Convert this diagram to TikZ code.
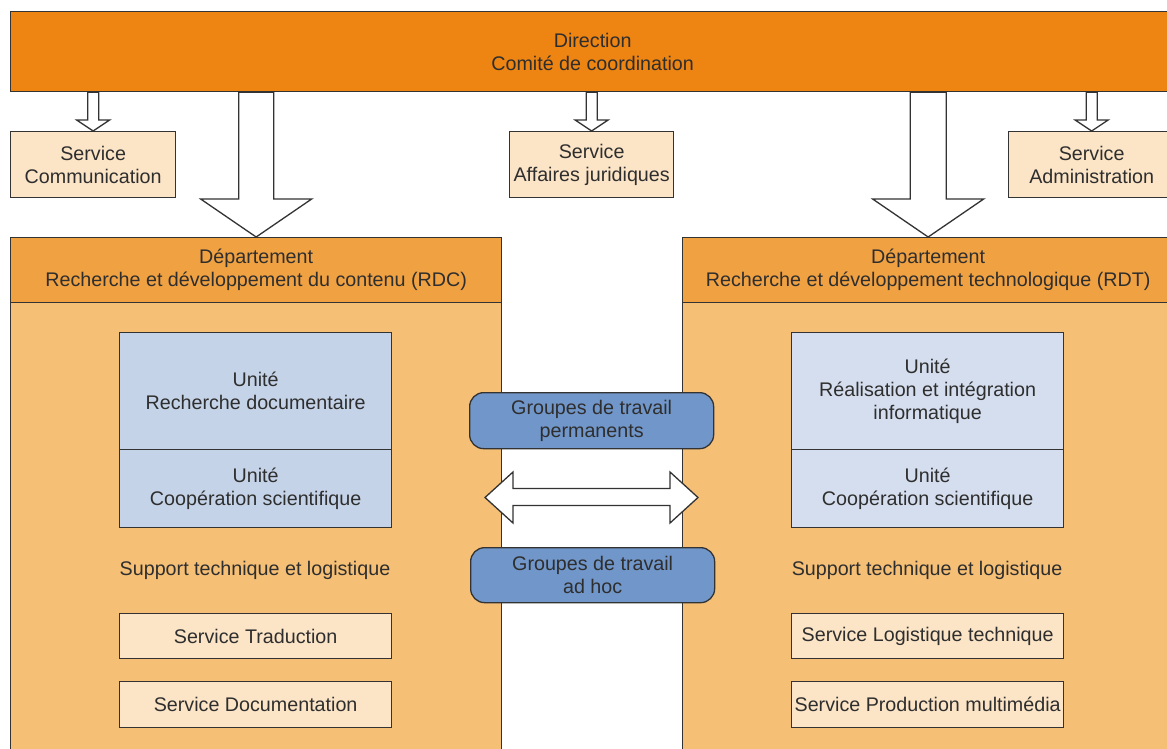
\documentclass[tikz,border=0pt]{standalone}
\usepackage{fontspec}
\setmainfont{Liberation Sans}
\usetikzlibrary{calc}
\definecolor{topc}{HTML}{EE8411}
\definecolor{headc}{HTML}{F0A142}
\definecolor{bodyc}{HTML}{F5BF76}
\definecolor{servc}{HTML}{FCE5C7}
\definecolor{unitl}{HTML}{C5D3E8}
\definecolor{unitr}{HTML}{D5DEEE}
\definecolor{groupc}{HTML}{7196C9}
\definecolor{linec}{HTML}{333333}
\definecolor{txtc}{HTML}{2E2E2E}
\newcommand\downblk[5]{%
  \draw[blk] let \p1=(#1), \p2=(#2) in
    ({\x2-#3},\y1) -- ({\x2-#3},{\y2+#5}) -- ({\x2-#4},{\y2+#5}) -- (\x2,\y2)
    -- ({\x2+#4},{\y2+#5}) -- ({\x2+#3},{\y2+#5}) -- ({\x2+#3},\y1) -- cycle;}
\begin{document}
\begin{tikzpicture}[x=1pt,y=-1pt,
  box/.style={draw=linec, line width=1.3pt, anchor=north west, inner sep=0pt,
    align=center, text=txtc, font=\fontsize{19.7}{23}\selectfont},
  plain/.style={inner sep=0pt, align=center, text=txtc, font=\fontsize{19.7}{23}\selectfont},
  blk/.style={draw=linec, line width=1.3pt, fill=white, line join=miter}]
\useasboundingbox (0,0) rectangle (1167,748);
\clip (0,0) rectangle (1167,748);
\fill[white] (0,0) rectangle (1167,748);

% top bar
\node[box, fill=topc, minimum width=1164pt, minimum height=80pt] (dir) at (10,11) {Direction\\Comité de coordination};

% services top
\node[box, fill=servc, minimum width=165pt, minimum height=66pt] (com) at (10,131) {Service\\Communication};
\node[box, fill=servc, minimum width=164pt, minimum height=66pt] (jur) at (509,131) {Service\\Affaires juridiques};
\node[box, fill=servc, minimum width=166pt, minimum height=66pt] (adm) at (1008,131) {\raisebox{-2pt}{\parbox{166pt}{\centering Service\\Administration}}};

% departments
\node[box, fill=bodyc, minimum width=491pt, minimum height=460pt] (rdcb) at (10,302) {};
\node[box, fill=headc, minimum width=491pt, minimum height=65pt] (rdc) at (10,237) {Département\\Recherche et développement du contenu (RDC)};
\node[box, fill=bodyc, minimum width=491pt, minimum height=460pt] (rdtb) at (682,302) {};
\node[box, fill=headc, minimum width=491pt, minimum height=65pt] (rdt) at (682,237) {Département\\Recherche et développement technologique (RDT)};

% units left
\node[box, fill=unitl, minimum width=272pt, minimum height=117pt] (u1) at (119,332) {Unité\\Recherche documentaire};
\node[box, fill=unitl, minimum width=272pt, minimum height=78pt] (u2) at (119,449) {Unité\\Coopération scientifique};
% units right
\node[box, fill=unitr, minimum width=272pt, minimum height=117pt] (u3) at (791,332) {Unité\\Réalisation et intégration\\informatique};
\node[box, fill=unitr, minimum width=272pt, minimum height=78pt] (u4) at (791,449) {Unité\\Coopération scientifique};

% support
\node[plain] (supl) at (255,570) {Support technique et logistique};
\node[plain] (supr) at (927,570) {Support technique et logistique};

% services in departments
\node[box, fill=servc, minimum width=272pt, minimum height=45pt] (trad) at (119,613) {Service Traduction};
\node[box, fill=servc, minimum width=272pt, minimum height=46pt] (doc) at (119,681) {Service Documentation};
\node[box, fill=servc, minimum width=272pt, minimum height=45pt] (log) at (791,613) {Service Logistique technique};
\node[box, fill=servc, minimum width=272pt, minimum height=46pt] (prod) at (791,681) {Service Production multimédia};

% downward block arrows
\downblk{dir.south}{com.north}{5.5pt}{16.5pt}{11pt}
\downblk{dir.south}{jur.north}{5.5pt}{16.5pt}{11pt}
\downblk{dir.south}{adm.north}{5.5pt}{16.5pt}{11pt}
\downblk{dir.south}{rdc.north}{17.5pt}{55.5pt}{38pt}
\downblk{dir.south}{rdt.north}{18pt}{55.5pt}{38pt}

% double arrow between departments
\coordinate (dl) at (485,497.5);
\coordinate (dr) at (698,497.5);
\draw[blk] let \p1=(dl), \p2=(dr) in
  (\x1,\y1) -- ({\x1+28pt},{\y1+25.5pt}) -- ({\x1+28pt},{\y1+9pt}) -- ({\x2-28pt},{\y1+9pt})
  -- ({\x2-28pt},{\y1+25.5pt}) -- (\x2,\y2) -- ({\x2-28pt},{\y1-25.5pt}) -- ({\x2-28pt},{\y1-8pt})
  -- ({\x1+28pt},{\y1-8pt}) -- ({\x1+28pt},{\y1-25.5pt}) -- cycle;

% working groups
\node[box, fill=groupc, rounded corners=14pt, minimum width=244pt, minimum height=56pt] (gp) at (469,392) {Groupes de travail\\permanents};
\node[box, fill=groupc, rounded corners=14pt, minimum width=244pt, minimum height=55pt] (ga) at (470,547) {Groupes de travail\\ad hoc};
\end{tikzpicture}
\end{document}
